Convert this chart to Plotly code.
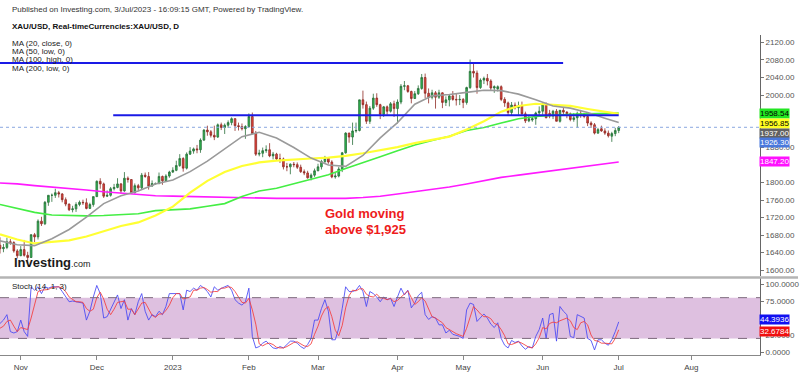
import pandas as pd
import plotly.graph_objects as go

# ---------------- data ----------------
holidays = ["2023-04-07"]
dates = [d for d in pd.bdate_range("2022-10-24", "2023-07-03") if d.strftime("%Y-%m-%d") not in holidays]

opens = [1657,1649,1652,1665,1663,1644,1633,1647,1634,1629,
         1681,1676,1712,1706,1755,1771,1771,1777,1774,1761,
         1751,1738,1740,1750,1755,1754,1741,1750,1768,1803,
         1797,1769,1771,1786,1789,1797,1781,1810,1807,1777,
         1793,1788,1817,1814,1792,1798,1798,1814,1804,1815,
         1824,1828,1839,1855,1833,1865,1872,1877,1875,1897,
         1920,1916,1908,1904,1932,1926,1931,1937,1946,1930,
         1928,1923,1928,1951,1912,1865,1867,1873,1875,1861,
         1865,1854,1854,1836,1836,1842,1841,1835,1825,1822,
         1811,1817,1827,1836,1848,1856,1847,1813,1815,1831,
         1868,1913,1904,1918,1919,1989,1978,1940,1970,1993,
         1978,1956,1973,1963,1980,1969,1984,2020,2021,2008,
         1992,2003,2015,2040,2004,1995,2005,1995,2005,1983,
         1989,1998,1990,1989,1990,1983,2017,2054,2050,2017,
         2034,2038,2032,2016,2014,2019,1990,1982,1960,1977,
         1971,1975,1957,1941,1943,1946,1959,1963,1978,1958,
         1952,1963,1940,1965,1961,1957,1944,1948,1958,1957,
         1951,1936,1932,1913,1923,1918,1913,1906,1912,1919]
highs = [1675,1660,1674,1671,1666,1648,1655,1669,1642,1682,
         1685,1716,1722,1758,1771,1775,1786,1781,1776,1766,
         1752,1747,1755,1759,1761,1764,1754,1768,1805,1810,
         1800,1782,1790,1797,1810,1799,1824,1814,1808,1798,
         1797,1822,1823,1824,1805,1800,1823,1816,1819,1827,
         1835,1850,1865,1858,1869,1881,1880,1886,1901,1922,
         1930,1920,1930,1935,1937,1935,1942,1949,1947,1937,
         1935,1931,1958,1960,1918,1875,1880,1885,1890,1870,
         1868,1866,1857,1845,1844,1847,1846,1841,1830,1827,
         1821,1832,1843,1852,1861,1858,1851,1823,1836,1870,
         1915,1914,1937,1937,1989,2010,1985,1975,2003,2004,
         1980,1975,1976,1984,1987,1990,2025,2032,2023,2010,
         2009,2022,2048,2049,2015,2012,2009,2012,2006,1997,
         2001,2009,2004,2000,1993,2019,2081,2073,2056,2038,
         2042,2048,2036,2022,2022,2022,1995,1985,1984,1983,
         1985,1985,1962,1954,1950,1962,1974,1983,1983,1966,
         1966,1968,1966,1971,1963,1960,1959,1962,1966,1959,
         1955,1940,1936,1925,1930,1924,1919,1916,1925,1929]
lows = [1638,1641,1648,1658,1640,1627,1632,1631,1616,1628,
        1664,1670,1701,1703,1747,1756,1765,1766,1755,1746,
        1735,1732,1733,1746,1749,1739,1740,1745,1767,1786,
        1765,1767,1768,1782,1787,1775,1779,1800,1774,1775,
        1781,1784,1811,1784,1791,1795,1796,1795,1802,1811,
        1822,1826,1836,1825,1830,1863,1866,1867,1868,1895,
        1907,1903,1897,1902,1920,1911,1925,1931,1918,1919,
        1919,1900,1925,1911,1861,1860,1858,1868,1858,1853,
        1850,1845,1830,1826,1819,1835,1831,1822,1817,1809,
        1805,1813,1826,1830,1843,1843,1810,1809,1812,1824,
        1866,1891,1886,1914,1917,1969,1934,1934,1966,1973,
        1945,1950,1955,1960,1950,1935,1979,2011,2005,1981,
        1991,2000,2012,1993,1981,1990,1969,1991,1970,1975,
        1974,1987,1976,1977,1970,1978,2014,2040,2003,2014,
        2025,2022,2010,2005,2008,1986,1973,1952,1954,1967,
        1955,1955,1936,1938,1939,1932,1953,1955,1947,1947,
        1945,1940,1937,1955,1947,1940,1939,1925,1948,1947,
        1929,1925,1910,1911,1916,1909,1903,1893,1906,1913]
closes = [1649,1652,1665,1663,1644,1633,1647,1634,1629,1681,
          1676,1712,1706,1755,1771,1771,1777,1774,1761,1751,
          1738,1740,1750,1755,1754,1741,1750,1768,1803,1797,
          1769,1771,1786,1789,1797,1781,1810,1807,1777,1793,
          1788,1817,1814,1792,1798,1798,1814,1804,1815,1824,
          1828,1839,1855,1833,1865,1872,1877,1875,1897,1920,
          1916,1908,1904,1932,1926,1931,1937,1946,1930,1928,
          1923,1928,1951,1912,1865,1867,1873,1875,1861,1865,
          1854,1854,1836,1836,1842,1841,1835,1825,1822,1811,
          1817,1827,1836,1848,1856,1847,1813,1815,1831,1868,
          1913,1904,1918,1919,1989,1978,1940,1970,1993,1978,
          1956,1973,1963,1980,1969,1984,2020,2021,2008,1992,
          2003,2015,2040,2004,1995,2005,1995,2005,1983,1989,
          1998,1990,1989,1990,1983,2017,2054,2050,2017,2034,
          2038,2032,2016,2019,2019,1990,1982,1960,1977,1971,
          1975,1957,1941,1946,1946,1959,1963,1978,1948,1952,
          1963,1940,1965,1961,1957,1944,1948,1958,1957,1951,
          1936,1932,1913,1921,1918,1913,1907,1912,1919,1926.3]

# moving averages at every 5th bar (bar index -> value)
ma_idx = [0,5,10,15,20,25,30,35,40,45,50,55,60,65,70,75,80,85,90,95,
          100,105,110,115,120,125,130,135,140,145,150,155,160,165,170,175,179]
ma20 = [1667,1658,1656,1672,1693,1721,1752,1770,1781,1797,1806,1825,1849,1877,1905,1915,1902,1880,1856,1840,
        1837,1862,1902,1937,1979,1998,2001,2006,2011,2010,2002,1989,1975,1970,1960,1947,1937.00]
ma50 = [1682,1670,1661,1664,1668,1677,1689,1701,1709,1725,1745,1777,1804,1824,1838,1846,1850,1853,1855,1857,
        1861,1867,1874,1881,1890,1897,1905,1921,1940,1962,1975,1980,1978,1975,1968,1962,1956.85]
ma100 = [1750,1741,1732,1726,1725,1724,1725,1727,1729,1736,1738,1740,1746,1752,1768,1781,1787,1797,1808,1818,
         1832,1845,1859,1873,1886,1896,1906,1919,1926,1936,1946,1951,1954,1956,1957,1958,1958.54]
ma200 = [1799,1797,1793,1790,1787,1783,1779,1776,1773,1770,1769,1768,1767,1766,1765,1764,1764,1764,1764,1763,
         1764,1766,1769,1774,1779,1785,1790,1797,1805,1812,1817,1822,1828,1833,1838,1843,1847.20]

stoch_k = [42,47,55,30,28,30,47,30,23,96, 91,96,86,96,94,96,96,96,89,81,
           74,75,74,74,72,47,60,81,98,86, 50,52,62,74,84,64,77,47,64,55,
           74,86,60,47,55,52,60,55,67,86, 86,85,86,62,91,89,94,91,98,94,
           89,81,96,91,94,96,98,91,77,72, 69,74,94,23,6,8,13,16,11,6,
           5,8,6,11,16,16,13,8,5,11, 20,47,47,64,77,60,18,18,35,64,
           96,89,89,91,98,89,67,89,86,81, 74,81,77,79,67,81,94,84,91,65,
           72,83,88,55,48,52,50,40,40,28, 32,26,25,23,20,62,72,70,45,50,
           56,50,41,36,43,20,10,6,17,14, 16,9,4,8,6,23,33,50,20,55,
           57,16,67,60,55,23,21,55,52,50, 20,17,3,18,18,13,10,18,30,44.3936]
stoch_d = [35,38,45,47,38,30,36,35,33,50, 70,89,91,92,92,95,96,96,94,89,
           81,77,74,74,73,64,60,63,80,88, 78,63,55,63,73,74,75,63,63,55,
           64,72,73,64,54,51,56,56,61,69, 80,86,86,78,80,81,91,91,94,95,
           92,88,89,89,94,94,96,95,89,80, 73,72,79,62,41,12,9,12,13,11,
           7,6,6,8,11,14,15,12,9,8, 12,26,38,53,63,67,52,32,24,39,
           65,83,91,90,93,93,85,82,81,85, 80,79,77,79,74,76,81,86,90,80,
           70,74,80,75,63,52,50,46,43,36, 33,29,27,25,23,35,51,67,62,56,
           52,52,49,42,40,33,24,12,11,13, 15,13,10,7,6,12,21,36,34,42,
           44,43,46,48,50,46,36,33,43,45, 40,25,17,16,13,13,13,12,20,32.6784]
stoch_bands = [20, 80]

levels = [2073, 1954]
level_start = ["2022-10-24", "2022-12-07 18:00"]
level_end = ["2023-06-08 22:00", "2023-07-03"]

# tick labels that stay visible (the rest are hidden under the value tags in the original)
price_ticks = [1600, 1640, 1680, 1720, 1760, 1800, 1880, 2000, 2040, 2080, 2120]
stoch_ticks = [0, 25, 75, 100]
month_ticks = ["2022-11-01", "2022-12-01", "2023-01-02", "2023-02-01", "2023-03-01",
               "2023-04-03", "2023-05-01", "2023-06-01", "2023-07-03", "2023-08-01"]
month_text = ["Nov", "Dec", "2023", "Feb", "Mar", "Apr", "May", "Jun", "Jul", "Aug"]

# ---------------- layout helpers ----------------
PW, PH = 762.0, 357.0
def px(x):
    return x / PW
def py(y):
    return (PH - y) / PH

FONT = "Liberation Sans, Arial, sans-serif"

fig = go.Figure()

ma_dates = [dates[i] for i in ma_idx]
for vals, col, w in [(ma200, "#ff1aff", 1.6), (ma100, "#44ee44", 1.6),
                     (ma50, "#ffff33", 2.2), (ma20, "#9a9a9a", 1.6)]:
    fig.add_trace(go.Scatter(x=ma_dates, y=vals, mode="lines", line=dict(color=col, width=w),
                             xaxis="x", yaxis="y", hoverinfo="skip", showlegend=False))

for lv, s, e in zip(levels, level_start, level_end):
    fig.add_trace(go.Scatter(x=[s, e], y=[lv, lv], mode="lines", line=dict(color="#1a1ae6", width=2),
                             xaxis="x", yaxis="y", hoverinfo="skip", showlegend=False))

fig.add_trace(go.Candlestick(
    x=dates, open=opens, high=highs, low=lows, close=closes,
    increasing=dict(line=dict(color="#2a6e3a", width=0.8), fillcolor="#2cb84f"),
    decreasing=dict(line=dict(color="#8e2b25", width=0.8), fillcolor="#e8443c"),
    whiskerwidth=0, xaxis="x", yaxis="y", hoverinfo="skip", showlegend=False))

fig.add_trace(go.Scatter(x=dates, y=stoch_k, mode="lines", line=dict(color="rgba(70,70,245,0.85)", width=1),
                         xaxis="x", yaxis="y2", hoverinfo="skip", showlegend=False))
fig.add_trace(go.Scatter(x=dates, y=stoch_d, mode="lines", line=dict(color="rgba(245,60,60,0.85)", width=1),
                         xaxis="x", yaxis="y2", hoverinfo="skip", showlegend=False))

shapes = []
shapes.append(dict(type="rect", xref="paper", x0=0, x1=1, yref="y2", y0=stoch_bands[0], y1=stoch_bands[1],
                   fillcolor="#dec0e0", line=dict(width=0), layer="below"))
for b in stoch_bands:
    shapes.append(dict(type="line", xref="paper", x0=0, x1=1, yref="y2", y0=b, y1=b,
                       line=dict(color="#7d6a7d", width=1, dash="dash")))
# last price dotted line
shapes.append(dict(type="line", xref="paper", x0=0, x1=1, yref="y", y0=closes[-1], y1=closes[-1],
                   line=dict(color="#8aa8e0", width=1, dash="dot")))
# pane separator
shapes.append(dict(type="line", xref="paper", x0=0, x1=1.05, yref="paper", y0=py(279), y1=py(279),
                   line=dict(color="#b4b4b4", width=2.5)))

ann = []
def txt(x, y, s, size=8, color="#222", bold=False, anchor="left"):
    ann.append(dict(x=px(x), y=py(y), xref="paper", yref="paper", text=("<b>%s</b>" % s) if bold else s,
                    showarrow=False, xanchor=anchor, yanchor="middle",
                    font=dict(family=FONT, size=size, color=color)))

txt(10, 10, "Published on Investing.com, 3/Jul/2023 - 16:09:15 GMT, Powered by TradingView.", 8, "#333")
txt(10, 27, "XAU/USD, Real-timeCurrencies:XAU/USD, D", 8, "#111", bold=True)
txt(10, 43.5, "MA (20, close, 0)", 8, "#222")
txt(10, 51.8, "MA (50, low, 0)", 8, "#222")
txt(10, 60.1, "MA (100, high, 0)", 8, "#222")
txt(10, 68.4, "MA (200, low, 0)", 8, "#222")
txt(10, 288, "Stoch (14, 1, 3)", 8, "#222")
txt(324, 215, "Gold moving", 13, "#ee1c1c", bold=True)
txt(324, 231, "above $1,925", 13, "#ee1c1c", bold=True)
ann.append(dict(x=px(12), y=py(264), xref="paper", yref="paper", showarrow=False, xanchor="left",
                yanchor="middle", text="<b>Investing</b><span style='font-size:9px'>.com</span>",
                font=dict(family=FONT, size=13, color="#1a1a1a")))

# right-axis value labels
labels = [(ma100[-1], "#22e622", "#000", 0, "y"), (ma50[-1], "#ffff22", "#000", -9.5, "y"),
          (ma20[-1], "#616161", "#fff", -10.4, "y"), (closes[-1], "#4a78dc", "#fff", -15.3, "y"),
          (ma200[-1], "#ff11ff", "#fff", 0, "y")]
for v, bg, fc, sh, yr in labels:
    ann.append(dict(x=1, y=v, xref="paper", yref=yr, text="%.2f" % v, showarrow=False, xanchor="left",
                    yanchor="middle", xshift=-1, yshift=sh, bgcolor=bg, borderpad=0,
                    font=dict(family=FONT, size=8, color=fc)))
for v, bg, sh in [(stoch_k[-1], "#1010f0", 2.5), (stoch_d[-1], "#f01010", -1.5)]:
    ann.append(dict(x=1, y=v, xref="paper", yref="y2", text="%.4f" % v, showarrow=False, xanchor="left",
                    yanchor="middle", xshift=-1, yshift=sh, bgcolor=bg, borderpad=0,
                    font=dict(family=FONT, size=8, color="#fff")))

fig.update_layout(
    width=800, height=372, margin=dict(l=0, r=38, t=0, b=15),
    paper_bgcolor="white", plot_bgcolor="white", showlegend=False,
    font=dict(family=FONT, size=8, color="#444"),
    shapes=shapes, annotations=ann,
    xaxis=dict(type="date", domain=[0, 1], anchor="y2",
               range=["2022-10-24", "2023-08-28 21:00"],
               rangebreaks=[dict(bounds=["sat", "mon"]), dict(values=holidays)],
               tickmode="array", tickvals=month_ticks, ticktext=month_text,
               ticks="outside", ticklen=4, tickcolor="#888", showline=True, linecolor="#888",
               showgrid=False, zeroline=False, tickfont=dict(size=8, color="#444"),
               rangeslider=dict(visible=False)),
    yaxis=dict(domain=[py(278), py(35)], range=[1585.7, 2137.5], side="right", anchor="x",
               tickmode="array", tickvals=price_ticks, tickformat=".2f",
               ticks="outside", ticklen=3, tickcolor="#777", showline=True, linecolor="#666",
               showgrid=False, zeroline=False, tickfont=dict(size=8, color="#555")),
    yaxis2=dict(domain=[0, py(280)], range=[-4.4, 108.3], side="right", anchor="x",
                tickmode="array", tickvals=stoch_ticks, tickformat=".4f",
                ticks="outside", ticklen=3, tickcolor="#777", showline=True, linecolor="#666",
                showgrid=False, zeroline=False, tickfont=dict(size=8, color="#555")),
)

fig.write_html("out.html", config={"displayModeBar": False, "staticPlot": True},
               post_script="document.body.style.margin='0';document.body.style.overflow='hidden';")
